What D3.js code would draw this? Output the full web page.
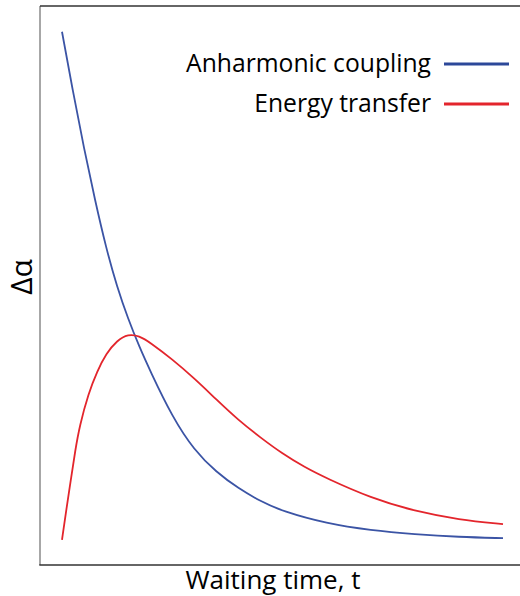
<!DOCTYPE html>
<html>
<head>
<meta charset="utf-8">
<script src="https://cdn.jsdelivr.net/npm/d3@7"></script>
<style>
  html, body { margin: 0; padding: 0; background: #fff; }
  svg { display: block; }
  text { font-family: "Open Sans", "Noto Sans", sans-serif; fill: #000; }
</style>
</head>
<body>
<svg id="chart" width="520" height="596"></svg>
<script>
// Waiting time (arbitrary units)
const times = [0, 0.25, 0.5, 0.75, 1, 1.25, 1.5, 1.75, 2, 2.5, 3, 3.5, 4, 4.5, 5, 6, 7, 8, 9, 10];
// Δα for anharmonic coupling: monotonic decay
const anharmonic = [0.954, 0.846, 0.745, 0.652, 0.567, 0.497, 0.440, 0.391, 0.347, 0.265, 0.205, 0.166, 0.137, 0.114, 0.096, 0.074, 0.062, 0.055, 0.050, 0.048];

// Δα for energy transfer: rise then decay
const timesET = [0, 0.1, 0.2, 0.3, 0.4, 0.6, 0.8, 1, 1.25, 1.5, 1.75, 2, 2.5, 3, 3.5, 4, 4.5, 5, 5.5, 6, 7, 8, 9, 10];
const energyTransfer = [0.045, 0.100, 0.152, 0.205, 0.249, 0.307, 0.347, 0.378, 0.402, 0.413, 0.410, 0.398, 0.368, 0.334, 0.296, 0.259, 0.228, 0.199, 0.175, 0.155, 0.120, 0.096, 0.081, 0.073];

const seriesNames = ["Anharmonic coupling", "Energy transfer"];
const seriesColors = ["#3b54a5", "#e3252c"];
const legendColors = ["#2c4899", "#e3252c"];
const xLabel = "Waiting time, t";
const yLabel = "Δα";

const svg = d3.select("#chart");

// plot frame
const frame = { left: 40, top: 6, right: 522, bottom: 565 };

const x = d3.scaleLinear().domain([0, 10]).range([62, 503]);
const y = d3.scaleLinear().domain([0, 1]).range([frame.bottom, frame.top]);

// frame: left (grey), top and bottom (dark)
svg.append("line").attr("x1", frame.left).attr("x2", frame.left)
  .attr("y1", frame.top).attr("y2", frame.bottom)
  .attr("stroke", "#8a8a8a").attr("stroke-width", 1.5);
svg.append("line").attr("x1", frame.left).attr("x2", frame.right)
  .attr("y1", frame.top).attr("y2", frame.top)
  .attr("stroke", "#333").attr("stroke-width", 1.3);
svg.append("line").attr("x1", frame.left - 0.7).attr("x2", frame.right)
  .attr("y1", frame.bottom).attr("y2", frame.bottom)
  .attr("stroke", "#333").attr("stroke-width", 1.5);

const line = d3.line()
  .x(d => x(d[0]))
  .y(d => y(d[1]))
  .curve(d3.curveBasis);

const series = [
  d3.zip(times, anharmonic),
  d3.zip(timesET, energyTransfer)
];

svg.selectAll("path.curve")
  .data(series)
  .join("path")
  .attr("class", "curve")
  .attr("d", line)
  .attr("fill", "none")
  .attr("stroke", (d, i) => seriesColors[i])
  .attr("stroke-width", 1.8);

// legend
const legend = svg.append("g");
const legendRows = [64, 104];
seriesNames.forEach((name, i) => {
  legend.append("text")
    .attr("x", 431)
    .attr("y", legendRows[i] + 8)
    .attr("text-anchor", "end")
    .attr("font-size", 24.7)
    .text(name);
  legend.append("line")
    .attr("x1", 444).attr("x2", 509)
    .attr("y1", legendRows[i]).attr("y2", legendRows[i])
    .attr("stroke", legendColors[i])
    .attr("stroke-width", 3);
});

// axis titles
svg.append("text")
  .attr("x", 273)
  .attr("y", 589)
  .attr("text-anchor", "middle")
  .attr("font-size", 26)
  .text(xLabel);

svg.append("text")
  .attr("transform", "translate(32,277) rotate(-90)")
  .attr("text-anchor", "middle")
  .attr("font-size", 30)
  .text(yLabel);
</script>
</body>
</html>
